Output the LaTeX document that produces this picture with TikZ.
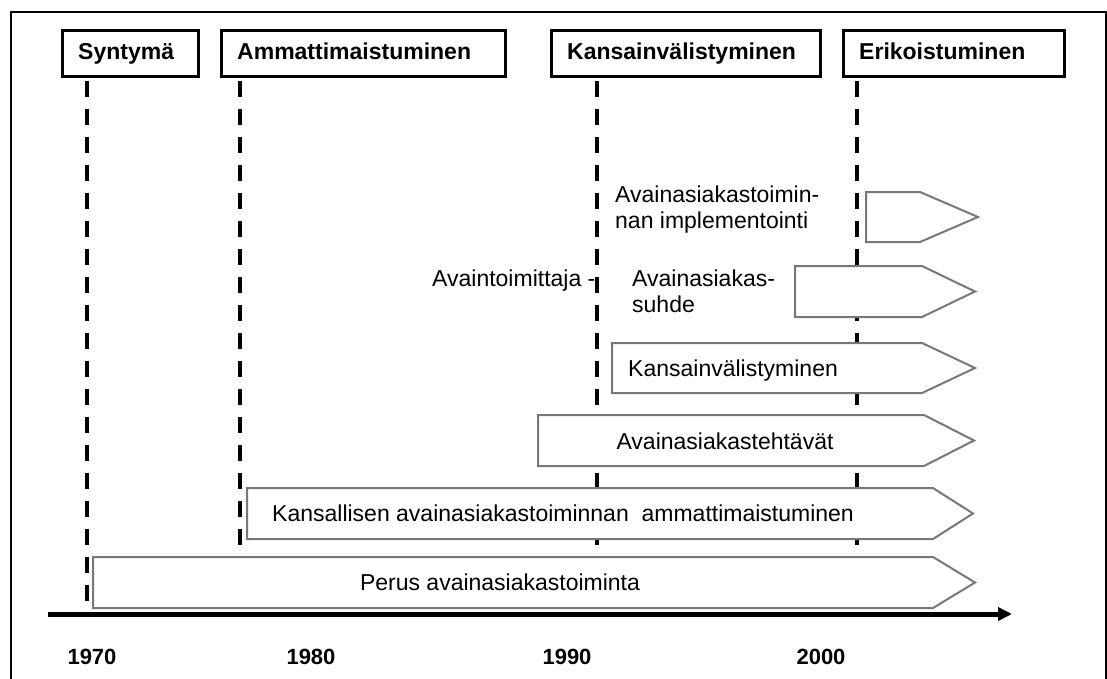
\documentclass[tikz,border=0pt]{standalone}
\usepackage{fontspec}
\setmainfont{Liberation Sans}
\usetikzlibrary{arrows.meta}
\definecolor{barline}{RGB}{120,120,120}
% one phase bar: left, top, bottom, end of body, tip
\newcommand\phasebar[5]{%
  \draw[bar] (#1,#2) -- (#4,#2) -- (#5,{(#2+#3)/2}) -- (#4,#3) -- (#1,#3) -- cycle;}
\begin{document}
\begin{tikzpicture}[x=1pt,y=-1pt,
  hdrbox/.style={draw=black, line width=3pt, fill=white, inner sep=0pt,
    minimum height=46pt, anchor=north west},
  hdrtext/.style={font=\fontsize{23}{27}\selectfont\bfseries, anchor=base west, inner sep=0pt},
  era/.style={draw=black, line width=4.5pt, dash pattern=on 15.7pt off 12.3pt},
  bar/.style={draw=barline, line width=2pt, fill=white, line join=miter},
  lbl/.style={font=\fontsize{23}{27}\selectfont, inner sep=0pt},
  yearlbl/.style={font=\fontsize{22}{26}\selectfont\bfseries, anchor=base, inner sep=0pt},
  axisline/.style={draw=black, line width=5pt, -{Triangle[length=14pt,width=13pt]}}]
\useasboundingbox (0,0) rectangle (1107,679);
\fill[white] (0,0) rectangle (1107,679);
% outer frame, open at the bottom edge of the page
\draw[line width=2pt] (11,12) rectangle (1106,700);

% phase headers
\node[hdrbox, minimum width=136pt] (hSyn) at (61,29) {};
\node[hdrbox, minimum width=284pt] (hAmm) at (220,29) {};
\node[hdrbox, minimum width=269pt] (hKan) at (550,29) {};
\node[hdrbox, minimum width=221pt] (hEri) at (842,29) {};
\node[hdrtext] (tSyn) at (78,60) {Syntymä};
\node[hdrtext] (tAmm) at (237,60) {Ammattimaistuminen};
\node[hdrtext] (tKan) at (567,60) {Kansainvälistyminen};
\node[hdrtext] (tEri) at (859,60) {Erikoistuminen};

% era boundaries
\coordinate (eA1) at (87,81);  \coordinate (eA2) at (87,606);
\coordinate (eB1) at (240,81); \coordinate (eB2) at (240,606);
\coordinate (eC1) at (597,81); \coordinate (eC2) at (597,606);
\coordinate (eD1) at (857,81); \coordinate (eD2) at (857,606);
\draw[era] (eA1) -- (eA2);
\draw[era] (eB1) -- (eB2);
\draw[era] (eC1) -- (eC2);
\draw[era] (eD1) -- (eD2);

% phase bars
\phasebar{93}{557}{608}{933}{975}
\phasebar{247}{488}{539}{933}{973}
\phasebar{538}{415}{466}{924}{974}
\phasebar{612}{343}{393}{922}{975}
\phasebar{795}{266}{317}{922}{975}
\phasebar{866}{192}{242}{920}{978}

% bar labels
\node[lbl, anchor=base] (lPerus) at (500,590) {Perus avainasiakastoiminta};
\node[lbl, anchor=base west] (lKansal) at (272,521) {Kansallisen avainasiakastoiminnan\ \ ammattimaistuminen};
\node[lbl, anchor=base] (lTeht) at (725,449) {Avainasiakastehtävät};
\node[lbl, anchor=base west] (lKvl) at (628,376) {Kansainvälistyminen};
\node[lbl, anchor=base west] (lSuhde1) at (632,286) {Avainasiakas-};
\node[lbl, anchor=base west] (lSuhde2) at (632,312) {suhde};
\node[lbl, anchor=base west] (lToim) at (432,286) {Avaintoimittaja -};
\node[lbl, anchor=base west] (lImpl1) at (615,202) {Avainasiakastoimin-};
\node[lbl, anchor=base west] (lImpl2) at (615,228) {nan implementointi};

% time axis
\coordinate (axL) at (48,614);
\coordinate (axR) at (1012,614);
\draw[axisline] (axL) -- (axR);
\node[yearlbl] (y70) at (92,664) {1970};
\node[yearlbl] (y80) at (311,664) {1980};
\node[yearlbl] (y90) at (567,664) {1990};
\node[yearlbl] (y00) at (821,664) {2000};
\end{tikzpicture}
\end{document}
